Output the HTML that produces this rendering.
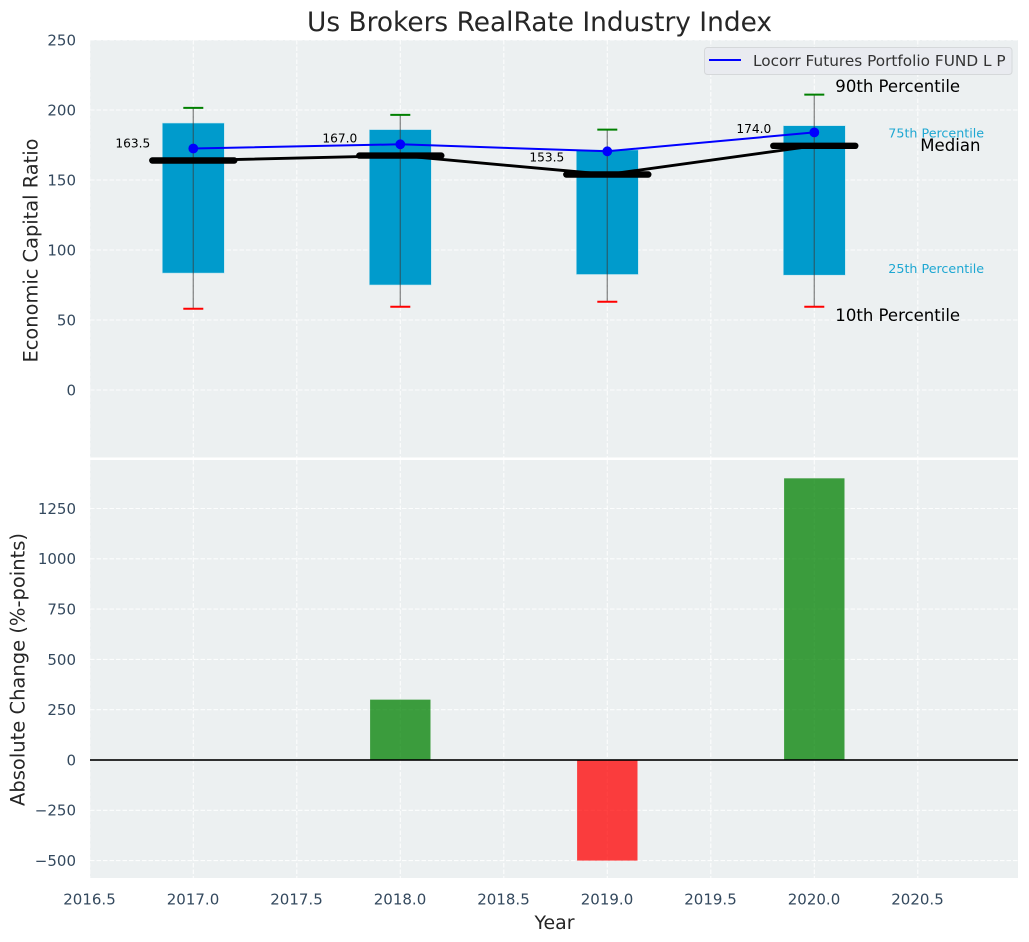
<!DOCTYPE html>
<html>
<head>
<meta charset="utf-8">
<title>Us Brokers RealRate Industry Index</title>
<style>
html,body{margin:0;padding:0;background:#fff;}
svg{display:block;font-family:"DejaVu Sans","Liberation Sans",sans-serif;}
</style>
</head>
<body>
<svg id="chart" xmlns="http://www.w3.org/2000/svg" width="1029" height="942" viewBox="0 0 1029 942"></svg>
<script>
const years = [2017, 2018, 2019, 2020];
const p90 = [201.5, 196.5, 186, 211];
const p75 = [190.7, 186, 171.5, 188.8];
const medians = [163.5, 167.0, 153.5, 174.0];
const p25 = [83.5, 75, 82.5, 82];
const p10 = [58, 59.5, 63, 59.5];
const fundValues = [172.5, 175.5, 170.5, 184];
const changes = [0, 300, -500, 1400];
const xTicks = [2016.5, 2017, 2017.5, 2018, 2018.5, 2019, 2019.5, 2020, 2020.5];
const topTicks = [0, 50, 100, 150, 200, 250];
const bottomTicks = [-500, -250, 0, 250, 500, 750, 1000, 1250];

const NS = 'http://www.w3.org/2000/svg';
const svg = document.getElementById('chart');
const L = 90, R = 1018;
const T1 = 40, B1 = 457.5, T2 = 460, B2 = 878;
const x = v => 193.3 + (v - 2017) * 207;
const yTop = v => 390 - v * 1.4;
const yBot = v => 760 - v * 0.2012;

function mk(tag, attrs, text) {
  const el = document.createElementNS(NS, tag);
  for (const k in attrs) el.setAttribute(k, attrs[k]);
  if (text !== undefined) el.textContent = text;
  svg.appendChild(el);
  return el;
}
function fmtTick(v) { return v < 0 ? '\u2212' + Math.abs(v) : String(v); }

let el;
el = mk('rect', {x: L, y: T1, width: R - L, height: B1 - T1, fill: '#ecf0f1'});


el = mk('rect', {x: L, y: T2, width: R - L, height: B2 - T2, fill: '#ecf0f1'});



const gridStyle = {stroke: '#ffffff', 'stroke-width': 1.1, 'stroke-dasharray': '4.5 2', 'stroke-opacity': 0.85};
xTicks.forEach(v => {
  el = mk('line', Object.assign({x1: x(v), x2: x(v), y1: T1, y2: B1}, gridStyle));
  
  
  el = mk('line', Object.assign({x1: x(v), x2: x(v), y1: T2, y2: B2}, gridStyle));
  
  
  el = mk('text', {x: x(v) - 0.3, y: 904.3, 'text-anchor': 'middle', 'font-size': 15, fill: '#34495e'}, v.toFixed(1));
  
  
});
topTicks.forEach(v => {
  el = mk('line', Object.assign({x1: L, x2: R, y1: yTop(v), y2: yTop(v)}, gridStyle));
  
  
  el = mk('text', {x: 76, y: yTop(v) + 5.4, 'text-anchor': 'end', 'font-size': 15, fill: '#34495e'}, fmtTick(v));
  
  
});
bottomTicks.forEach(v => {
  el = mk('line', Object.assign({x1: L, x2: R, y1: yBot(v), y2: yBot(v)}, gridStyle));
  
  
  el = mk('text', {x: 76, y: yBot(v) + 5.4, 'text-anchor': 'end', 'font-size': 15, fill: '#34495e'}, fmtTick(v));
  
  
});

years.forEach((yr, i) => {
  const cx = x(yr);
  el = mk('rect', {x: cx - 31, y: yTop(p75[i]), width: 62, height: yTop(p25[i]) - yTop(p75[i]), fill: '#009bcc', stroke: '#bfe4ef', 'stroke-width': 0.6});
  
  
  el = mk('line', {x1: cx, x2: cx, y1: yTop(p90[i]), y2: yTop(p10[i]), stroke: '#3a3a3a', 'stroke-opacity': 0.55, 'stroke-width': 1.4});
  
  
  el = mk('line', {x1: cx - 10, x2: cx + 10, y1: yTop(p90[i]), y2: yTop(p90[i]), stroke: '#008000', 'stroke-width': 2});
  
  
  el = mk('line', {x1: cx - 10, x2: cx + 10, y1: yTop(p10[i]), y2: yTop(p10[i]), stroke: '#ff0000', 'stroke-width': 2});
  
  
});

el = mk('polyline', {points: years.map((yr, i) => x(yr) + ',' + (yTop(medians[i]) - 0.6)).join(' '), fill: 'none', stroke: '#000', 'stroke-width': 2.9});



years.forEach((yr, i) => {
  const cx = x(yr);
  el = mk('line', {x1: cx - 41, x2: cx + 41, y1: yTop(medians[i]) - 0.6, y2: yTop(medians[i]) - 0.6, stroke: '#000', 'stroke-width': 6.4, 'stroke-linecap': 'round'});
  
  
  el = mk('text', {x: cx - 43, y: yTop(medians[i]) - 13.6, 'text-anchor': 'end', 'font-size': 12.2, fill: '#000'}, medians[i].toFixed(1));
  
  
});

el = mk('polyline', {points: years.map((yr, i) => x(yr) + ',' + yTop(fundValues[i])).join(' '), fill: 'none', stroke: '#0000ff', 'stroke-width': 2});


years.forEach((yr, i) => {
  el = mk('circle', {cx: x(yr), cy: yTop(fundValues[i]), r: 4.9, fill: '#0000ff'});
  
  
});

const last = years.length - 1;
const lx = x(years[last]);
el = mk('text', {x: lx + 21, y: yTop(p90[last]) - 2.8, 'font-size': 16.55, fill: '#000'}, '90th Percentile');


el = mk('text', {x: lx + 21, y: yTop(p10[last]) + 14.5, 'font-size': 16.55, fill: '#000'}, '10th Percentile');


el = mk('text', {x: lx + 74, y: yTop(p75[last]) + 12, 'font-size': 12.7, fill: '#1ea7d2'}, '75th Percentile');


el = mk('text', {x: lx + 74, y: yTop(p25[last]) - 2, 'font-size': 12.7, fill: '#1ea7d2'}, '25th Percentile');


el = mk('text', {x: lx + 106, y: yTop(medians[last]) + 4.8, 'font-size': 16.55, fill: '#000'}, 'Median');



years.forEach((yr, i) => {
  if (changes[i] === 0) return;
  const y0 = yBot(Math.max(changes[i], 0));
  const y1 = yBot(Math.min(changes[i], 0));
  el = mk('rect', {x: x(yr) - 30.2, y: y0, width: 60.4, height: y1 - y0, fill: changes[i] > 0 ? '#008000' : '#ff0000', 'fill-opacity': 0.75});
  
  
});
el = mk('rect', {x: L, y: yBot(0) - 0.8, width: R - L, height: 1.6, fill: '#000'});



el = mk('rect', {x: 704.5, y: 47.5, width: 307.5, height: 27, rx: 3, fill: '#e9ebf0', stroke: '#d5d8da', 'stroke-width': 1});


el = mk('line', {x1: 709, x2: 741, y1: 60, y2: 60, stroke: '#0000ff', 'stroke-width': 2});


el = mk('text', {x: 753, y: 66, 'font-size': 15.3, fill: '#333333'}, 'Locorr Futures Portfolio FUND L P');



el = mk('text', {x: 539.5, y: 31, 'text-anchor': 'middle', 'font-size': 26.4, fill: '#262626'}, 'Us Brokers RealRate Industry Index');


el = mk('text', {x: 554.5, y: 929, 'text-anchor': 'middle', 'font-size': 18.9, fill: '#262626'}, 'Year');


el = mk('text', {transform: 'translate(37.5,250.5) rotate(-90)', 'text-anchor': 'middle', 'font-size': 19.4, fill: '#262626'}, 'Economic Capital Ratio');


el = mk('text', {transform: 'translate(24.5,669.5) rotate(-90)', 'text-anchor': 'middle', 'font-size': 19.5, fill: '#262626'}, 'Absolute Change (%-points)');


</script>
</body>
</html>
